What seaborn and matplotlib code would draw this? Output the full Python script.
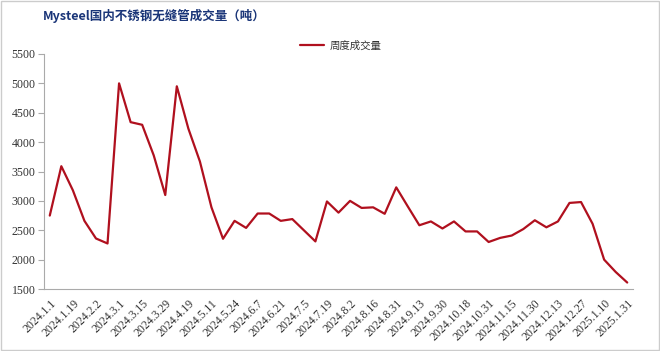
import matplotlib
matplotlib.use("Agg")
import matplotlib.pyplot as plt
import seaborn as sns
import pandas as pd
from matplotlib.patches import Rectangle

dates = ["2024.1.1", "2024.1.12", "2024.1.19", "2024.1.26", "2024.2.2", "2024.2.23",
         "2024.3.1", "2024.3.8", "2024.3.15", "2024.3.22", "2024.3.29", "2024.4.12",
         "2024.4.19", "2024.4.26", "2024.5.11", "2024.5.17", "2024.5.24", "2024.5.31",
         "2024.6.7", "2024.6.14", "2024.6.21", "2024.6.28", "2024.7.5", "2024.7.12",
         "2024.7.19", "2024.7.26", "2024.8.2", "2024.8.9", "2024.8.16", "2024.8.23",
         "2024.8.31", "2024.9.6", "2024.9.13", "2024.9.20", "2024.9.30", "2024.10.11",
         "2024.10.18", "2024.10.25", "2024.10.31", "2024.11.8", "2024.11.15", "2024.11.22",
         "2024.11.30", "2024.12.6", "2024.12.13", "2024.12.20", "2024.12.27", "2025.1.3",
         "2025.1.10", "2025.1.17", "2025.1.31"]
volume = [2750, 3590, 3180, 2660, 2360, 2275, 5000, 4340, 4295, 3775,
          3100, 4950, 4230, 3670, 2890, 2355, 2660, 2540, 2785, 2785,
          2660, 2690, 2500, 2310, 2990, 2800, 3000, 2880, 2890, 2780,
          3230, 2905, 2585, 2650, 2530, 2650, 2480, 2480, 2300, 2370,
          2410, 2520, 2670, 2550, 2650, 2965, 2980, 2610, 2000, 1790, 1610]
series_name = "周度成交量"
title = "Mysteel国内不锈钢无缝管成交量（吨）"
yticks = [1500, 2000, 2500, 3000, 3500, 4000, 4500, 5000, 5500]

sns.set_theme(style="white")
plt.rcParams['font.family'] = ['Liberation Serif', 'Noto Sans CJK SC', 'DejaVu Sans']

df = pd.DataFrame({"idx": range(len(dates)), "date": dates, "val": volume})

fig = plt.figure(figsize=(6.6, 3.51), dpi=100)
ax = fig.add_axes([44/660, 1-289/351, (633-44)/660, (289-54)/351])

sns.lineplot(data=df, x="idx", y="val", ax=ax, color="#B0101E", linewidth=1.6,
             label=series_name)

ax.set_xlim(-0.5, len(dates) - 0.5)
ax.set_ylim(1500, 5500)
ax.set_yticks(yticks)
ax.set_yticklabels([str(v) for v in yticks], fontsize=8.5, color="#333333")
ax.set_xticks(list(range(0, len(dates), 2)))
ax.set_xticklabels(dates[::2], rotation=45, ha="right", rotation_mode="anchor",
                   fontsize=8.5, color="#333333")
ax.set_xticks([i - 0.5 for i in range(len(dates) + 1)], minor=True)
ax.tick_params(axis="x", which="major", length=0, pad=6)
ax.tick_params(axis="x", which="minor", length=6, direction="inout", color="#AAAAAA", width=0.8)
ax.tick_params(axis="y", which="major", length=4, direction="out", color="#AAAAAA", width=0.8, pad=2, left=True)
ax.set_xlabel("")
ax.set_ylabel("")
for s in ["top", "right"]:
    ax.spines[s].set_visible(False)
for s in ["left", "bottom"]:
    ax.spines[s].set_color("#AAAAAA")
    ax.spines[s].set_linewidth(0.8)

leg = ax.legend(loc="center left", bbox_to_anchor=(300/660, 1-46/351),
                bbox_transform=fig.transFigure, frameon=False,
                prop={"family": ["Noto Sans CJK SC"], "size": 7.5},
                handlelength=2.3, handletextpad=0.5, borderpad=0, borderaxespad=0)
for t in leg.get_texts():
    t.set_color("#333333")

fig.text(43/660, 1-16/351, title, fontsize=9, fontweight="bold", color="#1A3578",
         family=["Noto Sans CJK SC", "DejaVu Sans"], va="center", ha="left")

fig.patches.append(Rectangle((0.002, 0.003), 0.996, 0.994, transform=fig.transFigure,
                             fill=False, edgecolor="#CCCCCC", linewidth=1.0))

fig.savefig("out.png", dpi=100)
